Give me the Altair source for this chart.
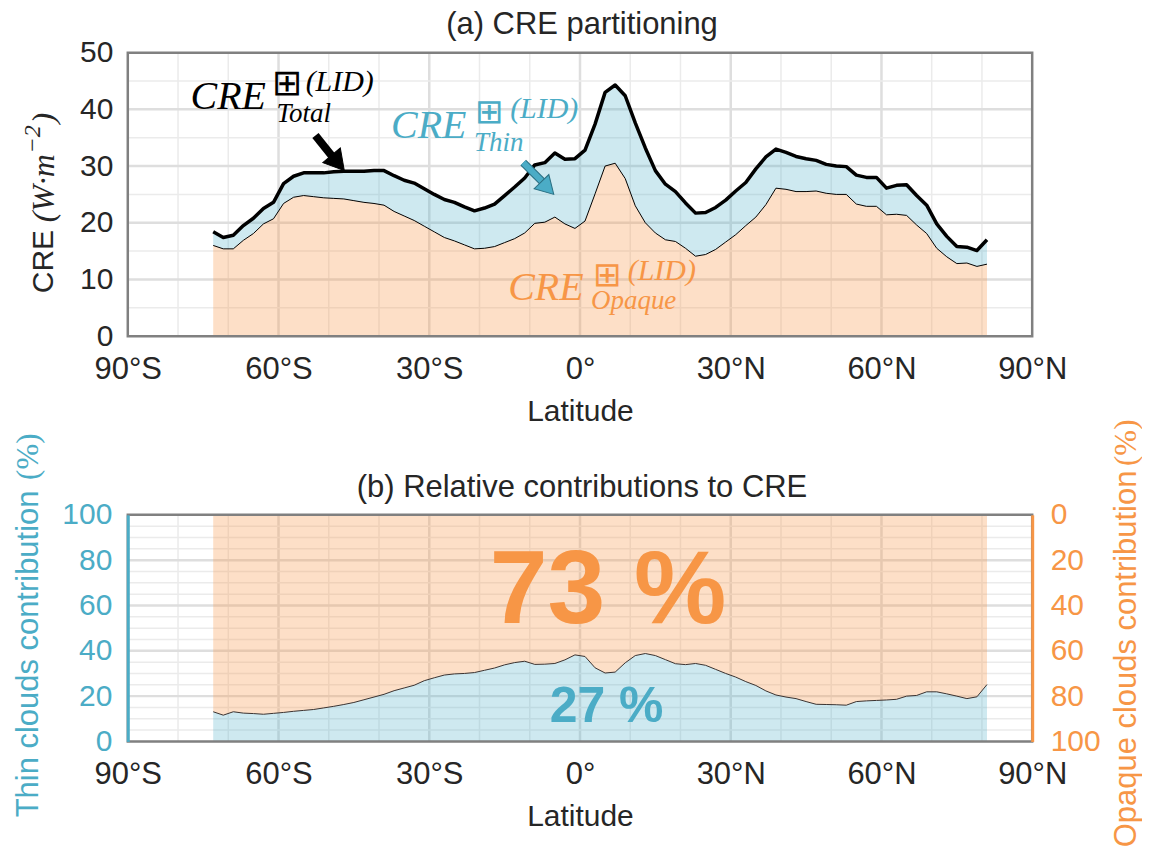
import altair as alt
import pandas as pd

# ---------------- data ----------------
lat = list(range(-73, 82, 2))

cre_total = [18.4, 17.4, 17.8, 19.5, 20.8, 22.5, 23.6, 26.9, 28.2, 28.8,
             28.8, 28.8, 29.0, 29.1, 29.1, 29.1, 29.2, 29.2, 28.3, 27.5,
             27.0, 26.0, 25.0, 24.1, 23.6, 22.8, 22.1, 22.6, 23.3, 24.8,
             26.3, 27.9, 30.2, 30.6, 32.3, 31.2, 31.3, 32.8, 37.4, 43.0,
             44.3, 42.4, 37.6, 33.2, 29.2, 26.8, 25.5, 23.5, 21.7, 21.8,
             22.7, 24.0, 25.6, 27.1, 29.5, 31.6, 33.0, 32.4, 31.7, 31.3,
             31.0, 30.3, 30.0, 29.9, 28.4, 28.0, 28.0, 26.1, 26.6, 26.7,
             24.8, 23.1, 19.8, 17.6, 15.8, 15.7, 15.1, 17.0]

cre_opaque = [16.0, 15.4, 15.4, 16.9, 18.1, 19.8, 20.7, 23.4, 24.5, 24.8,
              24.6, 24.4, 24.3, 24.2, 23.9, 23.6, 23.4, 23.1, 22.0, 21.2,
              20.4, 19.4, 18.4, 17.4, 16.8, 16.1, 15.4, 15.5, 15.8, 16.5,
              17.2, 18.2, 19.9, 20.1, 21.0, 19.8, 19.0, 20.3, 25.1, 30.0,
              30.5, 27.8, 23.0, 20.0, 18.2, 17.0, 16.7, 15.5, 14.1, 14.4,
              15.3, 16.6, 17.9, 19.5, 21.0, 23.2, 26.1, 25.9, 25.5, 25.5,
              25.6, 25.2, 25.0, 25.0, 23.3, 22.9, 22.9, 21.4, 21.5, 21.3,
              19.6, 18.1, 15.5, 14.0, 12.8, 12.9, 12.3, 12.7]

thin_pct = [13.1, 11.6, 13.1, 12.5, 12.3, 12.0, 12.4, 12.8, 13.3, 13.7,
            14.1, 14.8, 15.5, 16.3, 17.2, 18.4, 19.6, 20.8, 22.4, 23.6,
            24.8, 26.8, 28.1, 29.3, 29.8, 30.0, 30.4, 31.4, 32.4, 33.8,
            34.8, 35.4, 34.0, 34.1, 34.4, 36.0, 38.2, 37.5, 32.5, 30.2,
            30.6, 34.7, 37.9, 38.8, 37.9, 36.1, 34.3, 33.9, 34.4, 33.6,
            31.8, 30.0, 28.4, 26.4, 24.7, 22.3, 20.5, 19.6, 18.9, 17.6,
            16.4, 16.3, 16.2, 16.0, 17.6, 17.9, 18.1, 18.3, 18.6, 20.0,
            20.3, 21.9, 21.9, 21.0, 20.0, 18.9, 19.7, 25.1]

x_tick_values = [-90, -60, -30, 0, 30, 60, 90]
x_tick_labels = ["90°S", "60°S", "30°S", "0°", "30°N", "60°N", "90°N"]
x_minor = [-80, -70, -50, -40, -20, -10, 10, 20, 40, 50, 70, 80]
x_major = [-60, -30, 0, 30, 60]
top_y_ticks = [0, 10, 20, 30, 40, 50]
top_y_minor = [5, 15, 25, 35, 45]
top_y_major = [10, 20, 30, 40]
bot_y_ticks = [0, 20, 40, 60, 80, 100]
bot_y_minor = [5, 10, 15, 25, 30, 35, 45, 50, 55, 65, 70, 75, 85, 90, 95]
bot_y_major = [20, 40, 60, 80]

thin_share_label = "27 %"
opaque_share_label = "73 %"

# ---------------- styling ----------------
W, H1, H2 = 906, 284, 227
SANS = "Liberation Sans"
SERIF = "Liberation Serif"
SYM = "DejaVu Sans"
BLUE = "#4bacc6"
ORANGE = "#f79646"
TXT = "#262626"
FRAME = "#808080"
GMIN = "#ebebeb"
GMAJ = "#dedede"

df = pd.DataFrame({"lat": lat, "total": cre_total, "opaque": cre_opaque, "thin": thin_pct})
df["opq"] = 100 - df["thin"]
one = pd.DataFrame({"k": [0]})

expr = "''"
for v, l in zip(x_tick_values, x_tick_labels):
    expr = f"datum.value == {v} ? '{l}' : ({expr})"

xs = alt.Scale(domain=[-90, 90], nice=False, zero=False)
XAX = alt.Axis(values=x_tick_values, labelExpr=expr, title="Latitude", labelFont=SANS,
               labelFontSize=31, labelColor=TXT, titleFont=SANS, titleFontSize=30,
               titleFontWeight="normal", titleColor=TXT, ticks=False, domain=False,
               grid=False, labelPadding=18, titlePadding=12, labelFlush=False, labelOverlap=False)


def make_panel(ys, yax):
    """Helpers bound to one panel's y scale and axis (the same axis spec on every layer)."""

    def X(field):
        return alt.X(field, type="quantitative", scale=xs, axis=XAX)

    def Y(field):
        return alt.Y(field, type="quantitative", scale=ys, axis=yax)

    def XD(v):
        return alt.XDatum(v, type="quantitative", scale=xs, axis=XAX)

    def YD(v):
        return alt.YDatum(v, type="quantitative", scale=ys, axis=yax)

    return X, Y, XD, YD


def grid_layers(X, Y, yminor, ymajor):
    a = alt.Chart(pd.DataFrame({"g": x_minor})).mark_rule(color=GMIN, strokeWidth=1.5).encode(x=X("g"))
    b = alt.Chart(pd.DataFrame({"g": x_major})).mark_rule(color=GMAJ, strokeWidth=2.5).encode(x=X("g"))
    c = alt.Chart(pd.DataFrame({"g": yminor})).mark_rule(color=GMIN, strokeWidth=1.5).encode(y=Y("g"))
    d = alt.Chart(pd.DataFrame({"g": ymajor})).mark_rule(color=GMAJ, strokeWidth=2.5).encode(y=Y("g"))
    return [a, b, c, d]


def label(XD, YD, text, x, y, size, color, font=SERIF, style="italic", weight="normal", align="left"):
    return alt.Chart(one).mark_text(text=text, font=font, fontSize=size, fontStyle=style,
                                    fontWeight=weight, color=color, align=align,
                                    baseline="alphabetic").encode(x=XD(x), y=YD(y))


def ptext(text, px, py, size, color, font=SANS, style="normal", angle=0, align="left",
          baseline="middle"):
    return alt.Chart(one).mark_text(text=text, font=font, fontSize=size, fontStyle=style, color=color,
                                    angle=angle, align=align, baseline=baseline).encode(
        x=alt.value(px), y=alt.value(py))


def frame(h):
    return alt.Chart(one).mark_rect(fillOpacity=0, stroke=FRAME, strokeWidth=2.5).encode(
        x=alt.value(0), x2=alt.value(W), y=alt.value(0), y2=alt.value(h))


def arrow(XD, YD, x0, y0, x1, y1, hx, hy, ang, color, width, size, edge=None):
    out = []
    if edge:
        out.append(alt.Chart(one).mark_rule(color=edge, strokeWidth=width + 2).encode(
            x=XD(x0), y=YD(y0), x2=alt.X2Datum(x1), y2=alt.Y2Datum(y1)))
    out.append(alt.Chart(one).mark_rule(color=color, strokeWidth=width).encode(
        x=XD(x0), y=YD(y0), x2=alt.X2Datum(x1), y2=alt.Y2Datum(y1)))
    out.append(alt.Chart(one).mark_point(shape="triangle", filled=True, size=size, angle=ang, fill=color,
                                         opacity=1, stroke=edge or color, strokeWidth=1).encode(
        x=XD(hx), y=YD(hy)))
    return out


# ---------------- panel (a) ----------------
ys_top = alt.Scale(domain=[0, 50], nice=False, zero=True)
YAX_TOP = alt.Axis(values=top_y_ticks, labelFont=SANS, labelFontSize=30, labelColor=TXT, ticks=False,
                   domain=False, grid=False, labelPadding=15, title=None)
X, Y, XD, YD = make_panel(ys_top, YAX_TOP)

orange_a = alt.Chart(df).mark_area(color=ORANGE, opacity=0.3).encode(x=X("lat"), y=Y("opaque"))
blue_a = alt.Chart(df).mark_area(color=BLUE, opacity=0.27).encode(x=X("lat"), y=Y("total"), y2="opaque:Q")
opq_line = alt.Chart(df).mark_line(color="black", strokeWidth=1).encode(x=X("lat"), y=Y("opaque"))
tot_line = alt.Chart(df).mark_line(color="black", strokeWidth=3.5, strokeJoin="round").encode(
    x=X("lat"), y=Y("total"))

ann = [
    label(XD, YD, "CRE", -77.5, 40.1, 40, "black"),
    label(XD, YD, "Total", -60.4, 37.7, 27, "black"),
    label(XD, YD, "⊞", -61.2, 42.6, 36, "black", font=SYM, style="normal", weight=200),
    label(XD, YD, "(LID)", -54.6, 43.3, 30, "black"),
    label(XD, YD, "CRE", -37.6, 34.9, 40, BLUE),
    label(XD, YD, "Thin", -21.1, 32.6, 27, BLUE),
    label(XD, YD, "⊞", -20.9, 37.6, 34, BLUE, font=SYM, style="normal", weight=200),
    label(XD, YD, "(LID)", -13.9, 38.4, 30, BLUE),
    label(XD, YD, "CRE", -14.3, 6.3, 40, ORANGE),
    label(XD, YD, "Opaque", 2.2, 4.75, 27, ORANGE),
    label(XD, YD, "⊞", 2.5, 8.9, 34, ORANGE, font=SYM, style="normal", weight=200),
    label(XD, YD, "(LID)", 9.5, 9.86, 30, ORANGE),
]
arrows = arrow(XD, YD, -52.65, 35.4, -49.3, 31.7, -48.6, 31.0, 140, "black", 8, 520) + \
    arrow(XD, YD, -11.3, 30.6, -7.55, 27.3, -6.85, 26.5, 136, BLUE, 6, 420, edge="#2a6f82")

texts_top = [
    ptext("CRE", -84, 241, 30, TXT, angle=270),
    ptext("(W·m", -84, 170, 32, TXT, SERIF, "italic", angle=270),
    ptext("−2", -95, 101, 24, TXT, SERIF, "italic", angle=270),
    ptext(")", -84, 71, 32, TXT, SERIF, "italic", angle=270),
    ptext("(a) CRE partitioning", 455, -19, 31, TXT, align="center", baseline="alphabetic"),
]

top = alt.layer(*grid_layers(X, Y, top_y_minor, top_y_major),
                orange_a, blue_a, opq_line, tot_line, *ann, *arrows, *texts_top, frame(H1)).properties(
    width=W, height=H1)

# ---------------- panel (b) ----------------
ys_bot = alt.Scale(domain=[0, 100], nice=False, zero=True)
YAX_LEFT = alt.Axis(values=bot_y_ticks, labelFont=SANS, labelFontSize=30, labelColor=BLUE, ticks=False,
                    domain=True, domainColor=BLUE, domainWidth=3, grid=False, labelPadding=16, title=None,
                    zindex=1)
YAX_RIGHT = alt.Axis(values=bot_y_ticks, orient="right", labelFont=SANS, labelFontSize=30,
                     labelColor=ORANGE, ticks=False, domain=True, domainColor=ORANGE, domainWidth=3,
                     grid=False, labelPadding=18, title=None, zindex=1)
Xb, Yb, XDb, YDb = make_panel(ys_bot, YAX_LEFT)

blue_b = alt.Chart(df).mark_area(color=BLUE, opacity=0.27).encode(x=Xb("lat"), y=Yb("thin"))
orange_b = alt.Chart(df).mark_area(color=ORANGE, opacity=0.3).encode(
    x=Xb("lat"), y=Yb("thin"), y2=alt.Y2Datum(100))
big73 = label(XDb, YDb, opaque_share_label, 5.6, 52.4, 104, ORANGE, font=SANS, style="normal",
              weight="bold", align="center")
big27 = label(XDb, YDb, thin_share_label, 5.3, 8.4, 50, BLUE, font=SANS, style="normal", weight="bold",
              align="center")
texts_bot = [
    ptext("Thin clouds contribution", -99, 303, 31, BLUE, angle=270),
    ptext("(%)", -99, -35, 31, BLUE, SERIF, angle=270),
    ptext("Opaque clouds contribution", 1001, 333, 31, ORANGE, angle=270),
    ptext("(%)", 1001, -49, 31, ORANGE, SERIF, angle=270),
    ptext("(b) Relative contributions to CRE", 455, -18, 31, TXT, align="center", baseline="alphabetic"),
]

left_part = alt.layer(*grid_layers(Xb, Yb, bot_y_minor, bot_y_major),
                      blue_b, orange_b, big73, big27, *texts_bot, frame(H2))
line_b = alt.Chart(df).mark_line(color="#3a3230", strokeWidth=1).encode(
    x=Xb("lat"), y=alt.Y("opq:Q", scale=alt.Scale(domain=[0, 100], reverse=True, nice=False),
                         axis=YAX_RIGHT))

bottom = alt.layer(left_part, line_b).resolve_scale(y="independent").properties(width=W, height=H2)

chart = alt.VConcatChart(vconcat=[top, bottom], spacing=179, bounds="flush").configure_view(
    stroke=None).properties(padding={"left": 4, "top": 0, "right": 0, "bottom": 0})

chart.save("out.html", embed_options={"renderer": "svg", "actions": False})
